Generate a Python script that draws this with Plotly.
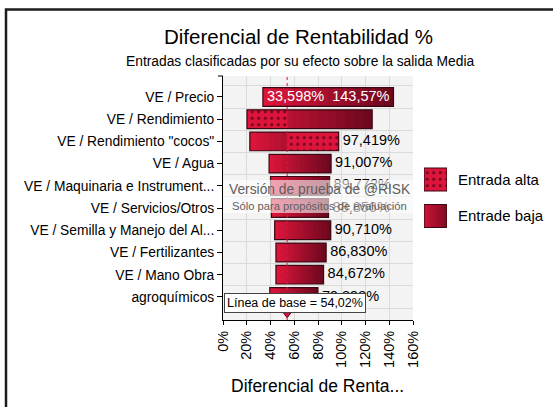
import plotly.graph_objects as go

# ---------------- data ----------------
categorias = ["VE / Precio", "VE / Rendimiento", "VE / Rendimiento \"cocos\"", "VE / Agua",
              "VE / Maquinaria e Instrument...", "VE / Servicios/Otros",
              "VE / Semilla y Manejo del Al...", "VE / Fertilizantes", "VE / Mano Obra",
              "agroquímicos"]
valor_min = [33.598, 20.2, 22.6, 38.8, 40.0, 40.8, 43.5, 44.6, 44.6, 39.4]
valor_max = [143.57, 125.6, 97.419, 91.007, 89.772, 88.856, 90.710, 86.830, 84.672, 79.898]
# side of each bar drawn with the dotted "Entrada alta" fill (None = none)
lado_alta = [None, "izq", "der", None, None, None, None, None, None, None]
etiqueta_izq = ["33,598%", "", "", "", "", "", "", "", "", ""]
etiqueta_der = ["143,57%", "", "97,419%", "91,007%", "89,772%", "88,856%", "90,710%",
                "86,830%", "84,672%", "79,898%"]
linea_base = 54.02
x_ticks = [0, 20, 40, 60, 80, 100, 120, 140, 160]
x_tick_text = [f"{v}%" for v in x_ticks]
leyenda = ["Entrada alta", "Entrade baja"]

FONT = "Liberation Sans"
C0 = (224, 22, 60)
C1 = (106, 8, 30)
DOT_BG = "#de143c"
OUTLINE = "#3a0812"

def mix(t):
    r = [round(C0[i] + (C1[i] - C0[i]) * t) for i in range(3)]
    return f"rgb({r[0]},{r[1]},{r[2]})"

ypos = list(range(len(categorias)))
BW = 0.84
fig = go.Figure()

# gradient fill across each bar
N = 14
for k in range(N):
    base = [a + (b - a) * k / N for a, b in zip(valor_min, valor_max)]
    w = [min((b - a) / N * 2.2, b - s) for a, b, s in zip(valor_min, valor_max, base)]
    fig.add_trace(go.Bar(y=ypos, x=w, base=base, orientation="h", width=BW,
                         marker=dict(color=mix((k + 0.5) / N), line=dict(width=0)),
                         showlegend=False, hoverinfo="skip"))

# dotted "Entrada alta" portion
d_base, d_w = [], []
for a, b, s in zip(valor_min, valor_max, lado_alta):
    if s == "izq":
        d_base.append(a); d_w.append(linea_base - a)
    elif s == "der":
        d_base.append(linea_base); d_w.append(b - linea_base)
    else:
        d_base.append(None); d_w.append(None)
fig.add_trace(go.Bar(y=ypos, x=d_w, base=d_base, orientation="h", width=BW,
                     marker=dict(color=DOT_BG, line=dict(width=0),
                                 pattern=dict(shape=".", fgcolor="black", bgcolor=DOT_BG,
                                              size=6.5, solidity=0.18)),
                     showlegend=False, hoverinfo="skip"))

# outline
fig.add_trace(go.Bar(y=ypos, x=[b - a for a, b in zip(valor_min, valor_max)], base=valor_min,
                     orientation="h", width=BW,
                     marker=dict(color="rgba(0,0,0,0)", line=dict(color=OUTLINE, width=1.2)),
                     showlegend=False, hoverinfo="skip"))

# value labels
inside = [i for i, l in enumerate(etiqueta_izq) if l]
fig.add_trace(go.Scatter(x=[valor_min[i] for i in inside], y=inside,
                         text=[" " + etiqueta_izq[i] for i in inside], mode="text",
                         textposition="middle right",
                         textfont=dict(family=FONT, size=14.5, color="white"),
                         showlegend=False, hoverinfo="skip"))
fig.add_trace(go.Scatter(x=[valor_max[i] for i in inside], y=inside,
                         text=[etiqueta_der[i] + " " for i in inside], mode="text",
                         textposition="middle left",
                         textfont=dict(family=FONT, size=14.5, color="white"),
                         showlegend=False, hoverinfo="skip"))
outside = [i for i, r in enumerate(etiqueta_der) if r and i not in inside]
fig.add_trace(go.Scatter(x=[valor_max[i] for i in outside], y=outside,
                         text=[" " + etiqueta_der[i] for i in outside], mode="text",
                         textposition="middle right",
                         textfont=dict(family=FONT, size=14.5, color="black"),
                         showlegend=False, hoverinfo="skip"))

# baseline marker
fig.add_trace(go.Scatter(x=[linea_base], y=[9.78], mode="markers",
                         marker=dict(symbol="triangle-down", size=7, color="#e0143c",
                                     line=dict(color="#5a0010", width=1)),
                         showlegend=False, hoverinfo="skip", cliponaxis=False))

# legend swatches (separate hidden axes)
M = 8
for k in range(M):
    fig.add_trace(go.Bar(x=[min(2 / M, 1 - k / M)], base=[k / M], y=[1], orientation="h",
                         width=0.63, xaxis="x2", yaxis="y2",
                         marker=dict(color=mix(0.15 + 0.7 * (k + 0.5) / M), line=dict(width=0)),
                         showlegend=False, hoverinfo="skip"))
fig.add_trace(go.Bar(x=[1], base=[0], y=[0], orientation="h", width=0.63,
                     xaxis="x2", yaxis="y2",
                     marker=dict(color=DOT_BG, line=dict(width=0),
                                 pattern=dict(shape=".", fgcolor="black", bgcolor=DOT_BG,
                                              size=6.5, solidity=0.18)),
                     showlegend=False, hoverinfo="skip"))
fig.add_trace(go.Bar(x=[1, 1], base=[0, 0], y=[0, 1], orientation="h", width=0.63,
                     xaxis="x2", yaxis="y2",
                     marker=dict(color="rgba(0,0,0,0)", line=dict(color=OUTLINE, width=1.2)),
                     showlegend=False, hoverinfo="skip"))

L, R, T, B = 10, 10, 76, 87
W, H = 553, 407
PW, PH = W - L - R, H - T - B
px = lambda v: (v - L) / PW
py = lambda v: (H - B - v) / PH

fig.update_layout(
    width=W, height=H, barmode="overlay",
    margin=dict(l=L, r=R, t=T, b=B, autoexpand=False),
    paper_bgcolor="white", plot_bgcolor="white",
    font=dict(family=FONT, color="black"),
    xaxis=dict(domain=[px(223), px(413)], range=[0, 160], tickvals=x_ticks, ticktext=x_tick_text,
               tickangle=-90, tickfont=dict(size=14.5), showline=True, linecolor="black",
               linewidth=1, ticks="outside", ticklen=4, tickcolor="black",
               showgrid=True, gridcolor="#dadada", zeroline=False, automargin=False,
               fixedrange=True),
    yaxis=dict(domain=[0, 1], range=[10.04, -0.945], tickvals=ypos, ticktext=categorias,
               tickfont=dict(size=13.8), showline=True, linecolor="black", linewidth=1,
               ticks="outside", ticklen=5, tickcolor="black", showgrid=False,
               minor=dict(tickmode="linear", tick0=0.5, dtick=1, showgrid=True,
                          gridcolor="#dadada", ticks=""),
               zeroline=False, automargin=False, fixedrange=True),
    xaxis2=dict(domain=[px(424), px(447)], range=[0, 1], visible=False, anchor="y2",
                fixedrange=True),
    yaxis2=dict(domain=[py(245), py(150)], range=[1.795, -0.808], visible=False, anchor="x2",
                fixedrange=True),
)

shapes = [
    dict(type="rect", xref="x domain", yref="y domain", x0=0, x1=1, y0=0, y1=1,
         fillcolor="#f3f3f3", line=dict(width=0), layer="below"),
    dict(type="line", xref="x", yref="y domain", x0=linea_base, x1=linea_base, y0=0, y1=1,
         line=dict(color="#e0143c", width=1, dash="dot"), layer="above"),
    dict(type="rect", xref="x domain", yref="paper", x0=0, x1=1, y0=py(213), y1=py(180),
         fillcolor="rgba(255,255,255,0.6)", line=dict(width=0), layer="above"),
    dict(type="line", xref="paper", yref="paper", x0=px(218), x1=px(223), y0=1, y1=1,
         line=dict(color="black", width=1)),
    dict(type="rect", xref="paper", yref="paper", x0=px(6), x1=px(570), y0=py(420), y1=py(9.5),
         line=dict(color="#1c1c1c", width=2.5), fillcolor="rgba(0,0,0,0)"),
]
fig.update_layout(shapes=shapes)

ann = [
    dict(text="Diferencial de Rentabilidad %", x=px(298), y=py(36), font=dict(size=20.5)),
    dict(text="Entradas clasificadas por su efecto sobre la salida Media", x=px(300), y=py(61),
         font=dict(size=13.8)),
    dict(text="Diferencial de Renta...", x=px(317), y=py(386), font=dict(size=17.5)),
    dict(text="Versión de prueba de @RISK", x=px(320), y=py(189),
         font=dict(size=13.8, color="#5e5e5e")),
    dict(text="Sólo para propósitos de evaluación", x=px(319.5), y=py(206),
         font=dict(size=11.2, color="#5e5e5e")),
]
for a in ann:
    a.update(xref="paper", yref="paper", showarrow=False, xanchor="center", yanchor="middle")
ann.append(dict(text="Línea de base = 54,02%", xref="paper", yref="paper", x=px(224),
                y=py(302.5), xanchor="left", yanchor="middle", showarrow=False,
                font=dict(size=12.5, color="black"), bgcolor="white", bordercolor="#444444",
                borderwidth=1, borderpad=2))
for i, t in enumerate(leyenda):
    ann.append(dict(text=t, xref="paper", yref="y2", x=px(456), y=i, xanchor="left",
                    yanchor="middle", showarrow=False, font=dict(size=15)))
fig.update_layout(annotations=ann)

fig.write_html("out.html", config={"displayModeBar": False, "staticPlot": True},
               post_script="document.body.style.margin='0';document.body.style.overflow='hidden';")
